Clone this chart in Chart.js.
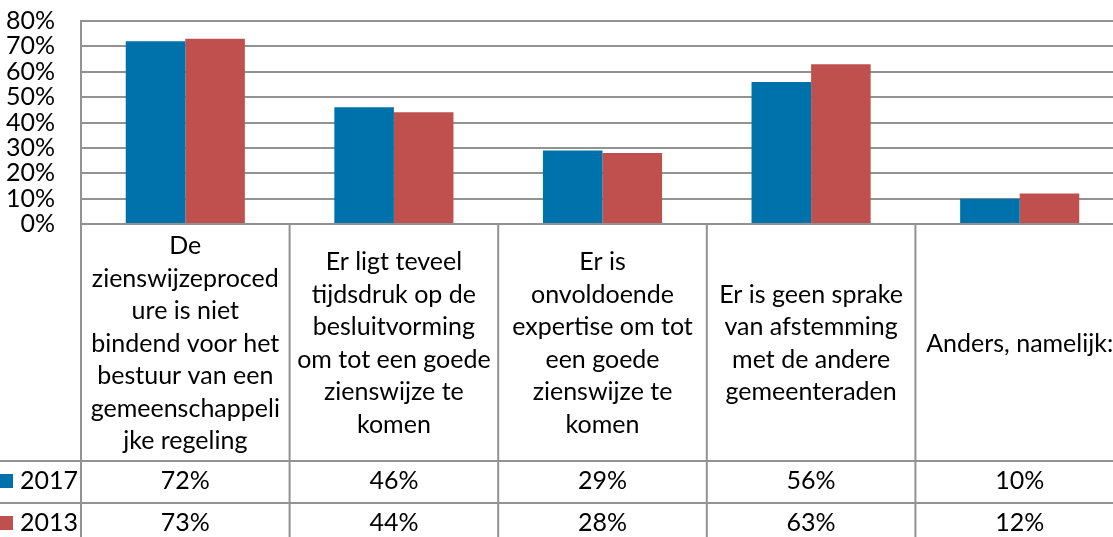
<!DOCTYPE html>
<html lang="nl">
<head>
  <meta charset="UTF-8">
  <title>Zienswijzeprocedure</title>
  <style>
    html, body { margin: 0; padding: 0; overflow: hidden; background: #fff; }
    #wrap { position: relative; width: 1124px; height: 537px; }
  </style>
  <script src="https://cdn.jsdelivr.net/npm/chart.js"></script>
</head>
<body>
  <div id="wrap"><canvas id="chart"></canvas></div>

  <script>
    // categories, already broken into the lines shown in the table cells
    const categories = [
      ["De", "zienswijzeproced", "ure is niet", "bindend voor het", "bestuur van een", "gemeenschappeli", "jke regeling"],
      ["Er ligt teveel", "tijdsdruk op de", "besluitvorming", "om tot een goede", "zienswijze te", "komen"],
      ["Er is", "onvoldoende", "expertise om tot", "een goede", "zienswijze te", "komen"],
      ["Er is geen sprake", "van afstemming", "met de andere", "gemeenteraden"],
      ["Anders, namelijk:"]
    ];
    const years = ["2017", "2013"];
    const values2017 = [72, 46, 29, 56, 10];
    const values2013 = [73, 44, 28, 63, 12];
    const yTicks = [0, 10, 20, 30, 40, 50, 60, 70, 80];

    const colors = ["#0072AB", "#C0504D"];
    const lineColor = "#929292";
    const font = "Lato, sans-serif";
    const fontSize = 25;

    // data table under the plot, cells placed from the x scale
    const dataTable = {
      id: "dataTable",
      afterDraw(chart) {
        const ctx = chart.ctx;
        const x = chart.scales.x;
        const area = chart.chartArea;
        const n = chart.data.labels.length;
        const colW = (x.right - x.left) / n;
        const catBottom = area.bottom + 237;
        const rowH = 42;
        const H = chart.height;

        ctx.save();
        ctx.strokeStyle = lineColor;
        ctx.lineWidth = 2;

        // horizontal lines
        ctx.beginPath();
        ctx.moveTo(0, catBottom); ctx.lineTo(x.right, catBottom);
        ctx.moveTo(0, catBottom + rowH); ctx.lineTo(x.right, catBottom + rowH);
        ctx.moveTo(0, catBottom + 2 * rowH); ctx.lineTo(x.right, catBottom + 2 * rowH);
        // column borders
        for (let i = 0; i <= n; i++) {
          const cx = x.left + i * colW;
          ctx.moveTo(cx, area.bottom); ctx.lineTo(cx, H);
        }
        ctx.stroke();

        ctx.fillStyle = "#000";
        ctx.font = fontSize + "px " + font;
        ctx.textAlign = "center";
        ctx.textBaseline = "middle";

        // category cells
        const midY = (area.bottom + catBottom) / 2 + 1;
        const lh = 32.5;
        chart.data.labels.forEach((lines, i) => {
          const cx = x.getPixelForValue(i);
          const y0 = midY - (lines.length - 1) * lh / 2;
          lines.forEach((t, k) => ctx.fillText(t, cx, y0 + k * lh));
        });

        // value rows with legend keys
        chart.data.datasets.forEach((ds, r) => {
          const cy = catBottom + r * rowH + 20;
          ds.data.forEach((v, i) => {
            ctx.fillText(v + "%", x.getPixelForValue(i), cy);
          });
          ctx.fillStyle = ds.backgroundColor;
          ctx.fillRect(0, cy - 7, 13, 14);
          ctx.fillStyle = "#000";
          ctx.textAlign = "left";
          ctx.fillText(ds.label, 20, cy);
          ctx.textAlign = "center";
        });
        ctx.restore();
      }
    };

    new Chart(document.getElementById("chart"), {
      type: "bar",
      data: {
        labels: categories,
        datasets: [
          { label: years[0], data: values2017, backgroundColor: colors[0] },
          { label: years[1], data: values2013, backgroundColor: colors[1] }
        ]
      },
      options: {
        responsive: true,
        maintainAspectRatio: false,
        animation: false,
        layout: { padding: { top: 21, bottom: 313, left: 0, right: 0 } },
        datasets: { bar: { categoryPercentage: 0.571, barPercentage: 1 } },
        plugins: { legend: { display: false }, tooltip: { enabled: false } },
        scales: {
          x: { display: false },
          y: {
            min: yTicks[0],
            max: yTicks[yTicks.length - 1],
            afterFit(scale) {
              scale.width = 81;
              scale.paddingTop = 0;
              scale.paddingBottom = 0;
            },
            afterBuildTicks(scale) { scale.ticks = yTicks.map(v => ({ value: v })); },
            grid: { color: lineColor, lineWidth: 2, drawTicks: false },
            border: { color: lineColor, width: 2 },
            ticks: {
              autoSkip: false,
              padding: 26,
              color: "#000",
              font: { family: font, size: fontSize },
              callback: v => v + "%"
            }
          }
        }
      },
      plugins: [dataTable]
    });
  </script>
</body>
</html>
